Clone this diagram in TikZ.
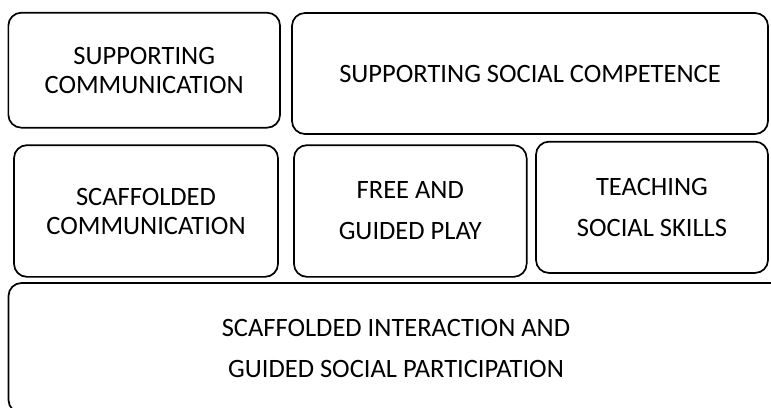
\documentclass[tikz,border=0pt]{standalone}
\usepackage{fontspec}
\setmainfont{Carlito}
\usepackage{tikz}

\begin{document}
\begin{tikzpicture}[x=1pt, y=-1pt,
    blockbox/.style={draw, line width=1.7pt, rounded corners=13pt,
        align=center, inner sep=0pt, text=black,
        font=\fontsize{26.5}{29}\selectfont},
    loose/.style={font=\fontsize{26.5}{41}\selectfont}
]
    \useasboundingbox (0, 0) rectangle (771, 407);
    \clip (0, 0) rectangle (771, 407);
    % top row
    \node[blockbox, minimum width=271.7pt, minimum height=115pt] (comm) at (144.2, 70.2) {SUPPORTING\\COMMUNICATION};
    \node[blockbox, minimum width=476pt, minimum height=121pt] (social) at (530, 73.5) {SUPPORTING SOCIAL COMPETENCE};
    % middle row
    \node[blockbox, minimum width=264pt, minimum height=131.7pt] (scaffcomm) at (146, 211) {SCAFFOLDED\\COMMUNICATION};
    \node[blockbox, loose, minimum width=232.7pt, minimum height=131.7pt] (play) at (410.3, 211) {FREE AND\\GUIDED PLAY};
    \node[blockbox, loose, minimum width=232pt, minimum height=131.3pt] (skills) at (652, 207.3) {TEACHING\\SOCIAL SKILLS};
    % base
    \node[blockbox, loose, minimum width=775pt, minimum height=130pt] (base) at (396, 348) {SCAFFOLDED INTERACTION AND\\GUIDED SOCIAL PARTICIPATION};
\end{tikzpicture}
\end{document}
